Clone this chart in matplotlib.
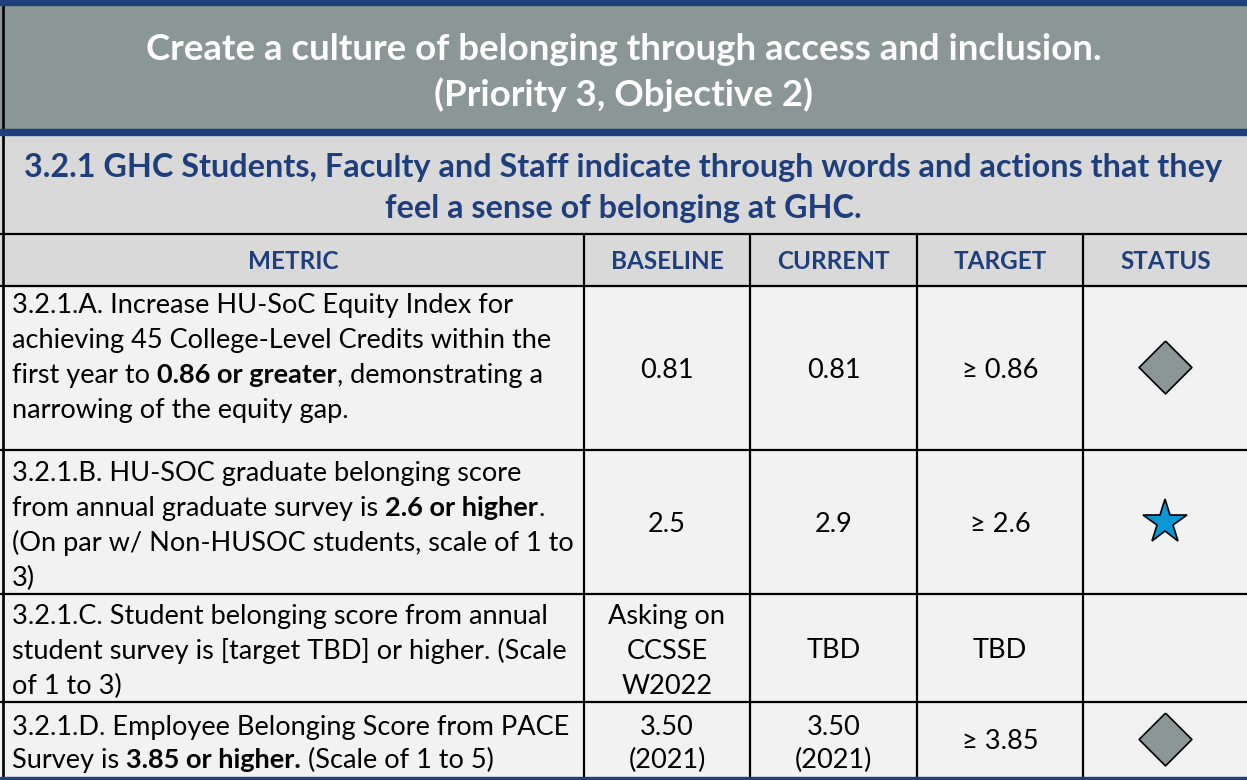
import matplotlib
matplotlib.use("Agg")
import matplotlib.pyplot as plt
from matplotlib.patches import Rectangle

# ---------------- data ----------------
title_lines = ["Create a culture of belonging through access and inclusion.",
               "(Priority 3, Objective 2)"]
subtitle_lines = ["3.2.1 GHC Students, Faculty and Staff indicate through words and actions that they",
                  "feel a sense of belonging at GHC."]
columns = ["METRIC", "BASELINE", "CURRENT", "TARGET", "STATUS"]
metrics = [
    "3.2.1.A. Increase HU-SoC Equity Index for\nachieving 45 College-Level Credits within the\n"
    "first year to **0.86 or greater**, demonstrating a\nnarrowing of the equity gap.",
    "3.2.1.B. HU-SOC graduate belonging score\nfrom annual graduate survey is **2.6 or higher**.\n"
    "(On par w/ Non-HUSOC students, scale of 1 to\n3)",
    "3.2.1.C. Student belonging score from annual\nstudent survey is [target TBD] or higher. (Scale\nof 1 to 3)",
    "3.2.1.D. Employee Belonging Score from PACE\nSurvey is **3.85 or higher.** (Scale of 1 to 5)",
]
baseline = ["0.81", "2.5", "Asking on\nCCSSE\nW2022", "3.50\n(2021)"]
current = ["0.81", "2.9", "TBD", "3.50\n(2021)"]
target = ["≥ 0.86", "≥ 2.6", "TBD", "≥ 3.85"]
status = ["diamond", "star", "", "diamond"]

# ---------------- style ----------------
BLUE = "#1f3f7c"
TITLE_BG = "#8a9796"
SUB_BG = "#d9d9d9"
CELL_BG = "#f2f2f2"
STAR_C = "#0a98d4"
FONT = ["Lato", "DejaVu Sans"]

W, H = 1247, 780
fig = plt.figure(figsize=(W / 100, H / 100), dpi=100)
ax = fig.add_axes([0, 0, 1, 1])
ax.set_xlim(0, W)
ax.set_ylim(H, 0)
ax.axis("off")
renderer = fig.canvas.get_renderer()

col_x = [3, 584, 750, 917, 1083, 1249]
row_y = [286, 450, 594, 702, 777]
first_base = [313, 481, 624, 735]
line_gap = [35, 35, 35, 33]

# backgrounds
ax.add_patch(Rectangle((0, 0), W, 132, color=TITLE_BG, zorder=0))
ax.add_patch(Rectangle((0, 132), W, 154, color=SUB_BG, zorder=0))
ax.add_patch(Rectangle((0, 286), W, 494, color=CELL_BG, zorder=0))

# blue bands
ax.add_patch(Rectangle((0, 0), W, 4.5, color=BLUE, zorder=3))
ax.add_patch(Rectangle((0, 129), W, 6, color=BLUE, zorder=3))
ax.add_patch(Rectangle((0, 777), W, 4, color=BLUE, zorder=3))

# black grid lines
lw = 1.6
ax.plot([3, 3], [0, 777], color="black", lw=lw * 1.2, zorder=2, solid_capstyle="butt")
ax.plot([0, W], [234, 234], color="black", lw=lw, zorder=2)
for y in row_y[:-1]:
    ax.plot([0, W], [y, y], color="black", lw=lw, zorder=2)
for x in col_x[1:-1]:
    ax.plot([x, x], [234, 777], color="black", lw=lw, zorder=2, solid_capstyle="butt")

# titles
ax.text(W / 2, 60, title_lines[0], ha="center", va="baseline", color="white",
        fontsize=26.4, fontweight="bold", family=FONT)
ax.text(W / 2, 106, title_lines[1], ha="center", va="baseline", color="white",
        fontsize=26.4, fontweight="bold", family=FONT)
ax.text(W / 2, 177, subtitle_lines[0], ha="center", va="baseline", color=BLUE,
        fontsize=23.3, fontweight="bold", family=FONT)
ax.text(W / 2, 218, subtitle_lines[1], ha="center", va="baseline", color=BLUE,
        fontsize=23.3, fontweight="bold", family=FONT)

# column headers
for i, c in enumerate(columns):
    cx = (col_x[i] + col_x[i + 1]) / 2
    ax.text(cx, 269, c, ha="center", va="baseline", color=BLUE,
            fontsize=17.5, fontweight="bold", family=FONT)

BODY_FS = 19.5


def width_of(s, weight):
    t = ax.text(0, 0, s, fontsize=BODY_FS, fontweight=weight, family=FONT)
    w = t.get_window_extent(renderer).width
    t.remove()
    return w


space_w = {w: width_of("x x", w) - width_of("xx", w) for w in ("normal", "bold")}


def draw_rich(x, y, line):
    parts = line.split("**")
    for k, seg in enumerate(parts):
        if not seg:
            continue
        weight = "bold" if k % 2 == 1 else "normal"
        lead = len(seg) - len(seg.lstrip(" "))
        trail = len(seg) - len(seg.rstrip(" "))
        x += lead * space_w[weight]
        core = seg.strip(" ")
        if core:
            t = ax.text(x, y, core, ha="left", va="baseline", fontsize=BODY_FS,
                        fontweight=weight, family=FONT, color="black")
            x += t.get_window_extent(renderer).width
        x += trail * space_w[weight]


for r in range(len(metrics)):
    top, bot = row_y[r], row_y[r + 1]
    for j, line in enumerate(metrics[r].split("\n")):
        draw_rich(12, first_base[r] + j * line_gap[r], line)
    for ci, vals in ((1, baseline), (2, current), (3, target)):
        cx = (col_x[ci] + col_x[ci + 1]) / 2
        lines = vals[r].split("\n")
        if len(lines) == 1:
            ax.text(cx, (top + bot) / 2 + 2, lines[0], ha="center", va="center",
                    fontsize=BODY_FS, family=FONT, color="black")
        else:
            for j, ln in enumerate(lines):
                ax.text(cx, first_base[r] + j * line_gap[r], ln, ha="center",
                        va="baseline", fontsize=BODY_FS, family=FONT, color="black")
    sx = (col_x[4] + col_x[5]) / 2 - 1
    sy = (top + bot) / 2
    if status[r] == "diamond":
        ax.plot([sx], [sy - 1], marker=[(0, 1), (1, 0), (0, -1), (-1, 0), (0, 1)],
                ms=38, mfc=TITLE_BG, mec="black", mew=1.2, zorder=4)
    elif status[r] == "star":
        ax.plot([sx], [sy], marker="*", ms=33, mfc=STAR_C, mec="black",
                mew=1.2, zorder=4)

fig.savefig("out.png", dpi=100)
